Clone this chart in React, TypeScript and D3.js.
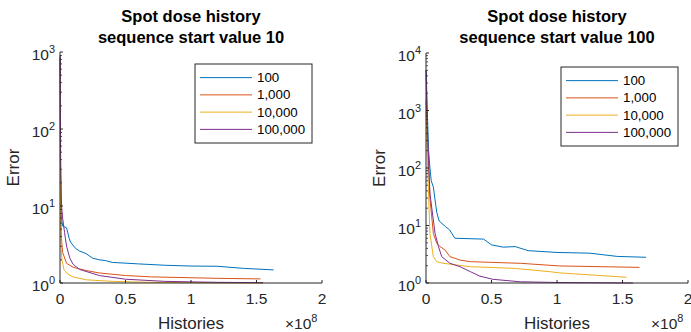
import React from "react";
import * as d3 from "d3";

const seriesNames = ["100", "1,000", "10,000", "100,000"];
const colors = ["#0072BD", "#D95319", "#EDB120", "#7E2F8E"];
const xTicks = [0, 0.5, 1, 1.5, 2];

// Left panel: sequence start value 10 (x in 1e8 histories, error)
const left100: [number, number][] = [[0.001, 850], [0.005, 12], [0.01, 7], [0.02, 5.5], [0.05, 5.2], [0.07, 3.8], [0.08, 3.4], [0.12, 2.8], [0.15, 2.6], [0.2, 2.4], [0.25, 2.1], [0.3, 2.0], [0.35, 1.95], [0.4, 1.85], [0.6, 1.77], [0.8, 1.7], [1.0, 1.66], [1.2, 1.65], [1.4, 1.55], [1.63, 1.48]];
const left1000: [number, number][] = [[0.001, 800], [0.005, 10], [0.01, 4], [0.02, 2.5], [0.05, 1.8], [0.1, 1.6], [0.2, 1.45], [0.3, 1.35], [0.5, 1.25], [0.7, 1.2], [0.9, 1.18], [1.2, 1.15], [1.53, 1.13]];
const left10000: [number, number][] = [[0.001, 500], [0.003, 10], [0.008, 3], [0.015, 2], [0.03, 1.5], [0.06, 1.3], [0.1, 1.2], [0.2, 1.1], [0.4, 1.05], [0.7, 1.02], [1.0, 1.01], [1.55, 1.0]];
const left100000: [number, number][] = [[0.001, 900], [0.005, 40], [0.012, 10], [0.02, 7], [0.035, 4.5], [0.05, 3.0], [0.075, 2.1], [0.1, 1.75], [0.15, 1.5], [0.3, 1.25], [0.5, 1.12], [0.8, 1.05], [1.2, 1.02], [1.55, 1.01]];

// Right panel: sequence start value 100
const right100: [number, number][] = [[0.001, 5000], [0.01, 1000], [0.02, 200], [0.03, 100], [0.04, 60], [0.056, 47], [0.069, 28], [0.082, 17], [0.1, 12], [0.15, 9.5], [0.18, 8.4], [0.22, 6.0], [0.44, 5.8], [0.5, 4.6], [0.59, 4.2], [0.68, 4.3], [0.78, 3.65], [1.0, 3.4], [1.25, 3.3], [1.46, 2.9], [1.68, 2.8]];
const right1000: [number, number][] = [[0.001, 1500], [0.01, 300], [0.03, 30], [0.056, 7.3], [0.082, 4.9], [0.107, 4.3], [0.145, 3.75], [0.183, 2.87], [0.22, 2.7], [0.26, 2.5], [0.34, 2.35], [0.72, 2.2], [1.02, 1.98], [1.63, 1.87]];
const right10000: [number, number][] = [[0.001, 1000], [0.01, 150], [0.03, 7.3], [0.056, 2.87], [0.082, 2.35], [0.13, 2.2], [0.34, 1.92], [0.67, 1.8], [0.95, 1.57], [1.02, 1.5], [1.53, 1.26]];
const right100000: [number, number][] = [[0.001, 5000], [0.01, 500], [0.03, 36], [0.069, 7.3], [0.095, 4.3], [0.12, 2.87], [0.183, 2.2], [0.26, 1.92], [0.34, 1.57], [0.41, 1.32], [0.51, 1.16], [0.72, 1.05], [1.0, 1.02], [1.58, 1.0]];

const FONT = "'Liberation Sans', Arial, Helvetica, sans-serif";
const AX = "#262626";

type PanelProps = {
  x0: number; x1: number; yTop: number; yBot: number;
  maxExp: number; title2: string; data: [number, number][][];
  legend: { x: number; y: number; w: number; h: number };
  ylabelX: number;
};

function Panel(p: PanelProps) {
  const xs = d3.scaleLinear().domain([0, 2]).range([p.x0, p.x1]);
  const ys = d3.scaleLog().domain([1, Math.pow(10, p.maxExp)]).range([p.yBot, p.yTop]);
  const line = d3.line<[number, number]>().x(d => xs(d[0])).y(d => ys(d[1]));
  const majors = d3.range(0, p.maxExp + 1);
  const minors: number[] = [];
  for (let e = 0; e < p.maxExp; e++) for (let k = 2; k <= 9; k++) minors.push(k * Math.pow(10, e));
  const cx = (p.x0 + p.x1) / 2;
  const rowH = (p.legend.h - 10) / 4;
  return (
    <g>
      <text x={cx} y={22} textAnchor="middle" fontWeight="bold" fontSize={16.5} fill="#000">Spot dose history</text>
      <text x={cx} y={43} textAnchor="middle" fontWeight="bold" fontSize={16.5} fill="#000">{p.title2}</text>
      {p.data.map((d, i) => (
        <path key={i} d={line(d) || ""} fill="none" stroke={colors[i]} strokeWidth={1} />
      ))}
      <line x1={p.x0} x2={p.x0} y1={p.yTop} y2={p.yBot} stroke={AX} strokeWidth={1} />
      <line x1={p.x0} x2={p.x1} y1={p.yBot} y2={p.yBot} stroke={AX} strokeWidth={1} />
      {xTicks.map(t => (
        <g key={t}>
          <line x1={xs(t)} x2={xs(t)} y1={p.yBot} y2={p.yBot - 3} stroke={AX} />
          <text x={xs(t)} y={p.yBot + 21} textAnchor="middle" fontSize={15.5} fill={AX}>{String(t)}</text>
        </g>
      ))}
      {majors.map(e => (
        <g key={e}>
          <line x1={p.x0} x2={p.x0 + 3} y1={ys(Math.pow(10, e))} y2={ys(Math.pow(10, e))} stroke={AX} />
          <text x={p.x0 - 5} y={ys(Math.pow(10, e)) + 8} textAnchor="end" fontSize={15.5} fill={AX}>
            10<tspan dy={-7} fontSize={11}>{e}</tspan>
          </text>
        </g>
      ))}
      {minors.map((v, i) => (
        <line key={i} x1={p.x0} x2={p.x0 + 2} y1={ys(v)} y2={ys(v)} stroke={AX} strokeWidth={0.8} />
      ))}
      <text x={cx} y={329} textAnchor="middle" fontSize={17} fill={AX}>Histories</text>
      <text x={p.x1 - 37} y={329} fontSize={15.5} fill={AX}>
        ×10<tspan dy={-7} fontSize={11}>8</tspan>
      </text>
      <text transform={`translate(${p.ylabelX},${(p.yTop + p.yBot) / 2}) rotate(-90)`} textAnchor="middle" fontSize={17} fill={AX}>Error</text>
      <rect x={p.legend.x} y={p.legend.y} width={p.legend.w} height={p.legend.h} fill="#fff" stroke={AX} strokeWidth={1} />
      {seriesNames.map((s, i) => {
        const yy = p.legend.y + 5 + rowH * (i + 0.5);
        return (
          <g key={s}>
            <line x1={p.legend.x + 5} x2={p.legend.x + 57} y1={yy} y2={yy} stroke={colors[i]} strokeWidth={1} />
            <text x={p.legend.x + 62} y={yy + 4.5} fontSize={13.3} fill="#000">{s}</text>
          </g>
        );
      })}
    </g>
  );
}

export default function App() {
  return (
    <svg width={691} height={332} style={{ position: "absolute", left: 0, top: 0, background: "#fff", fontFamily: FONT }}>
      <rect width={691} height={332} fill="#fff" />
      <Panel x0={60} x1={322} yTop={52} yBot={283} maxExp={3} title2="sequence start value 10"
        data={[left100, left1000, left10000, left100000]}
        legend={{ x: 195, y: 64, w: 117, h: 79 }} ylabelX={19} />
      <Panel x0={426} x1={688} yTop={53} yBot={283} maxExp={4} title2="sequence start value 100"
        data={[right100, right1000, right10000, right100000]}
        legend={{ x: 561, y: 67, w: 117, h: 79 }} ylabelX={385} />
    </svg>
  );
}
